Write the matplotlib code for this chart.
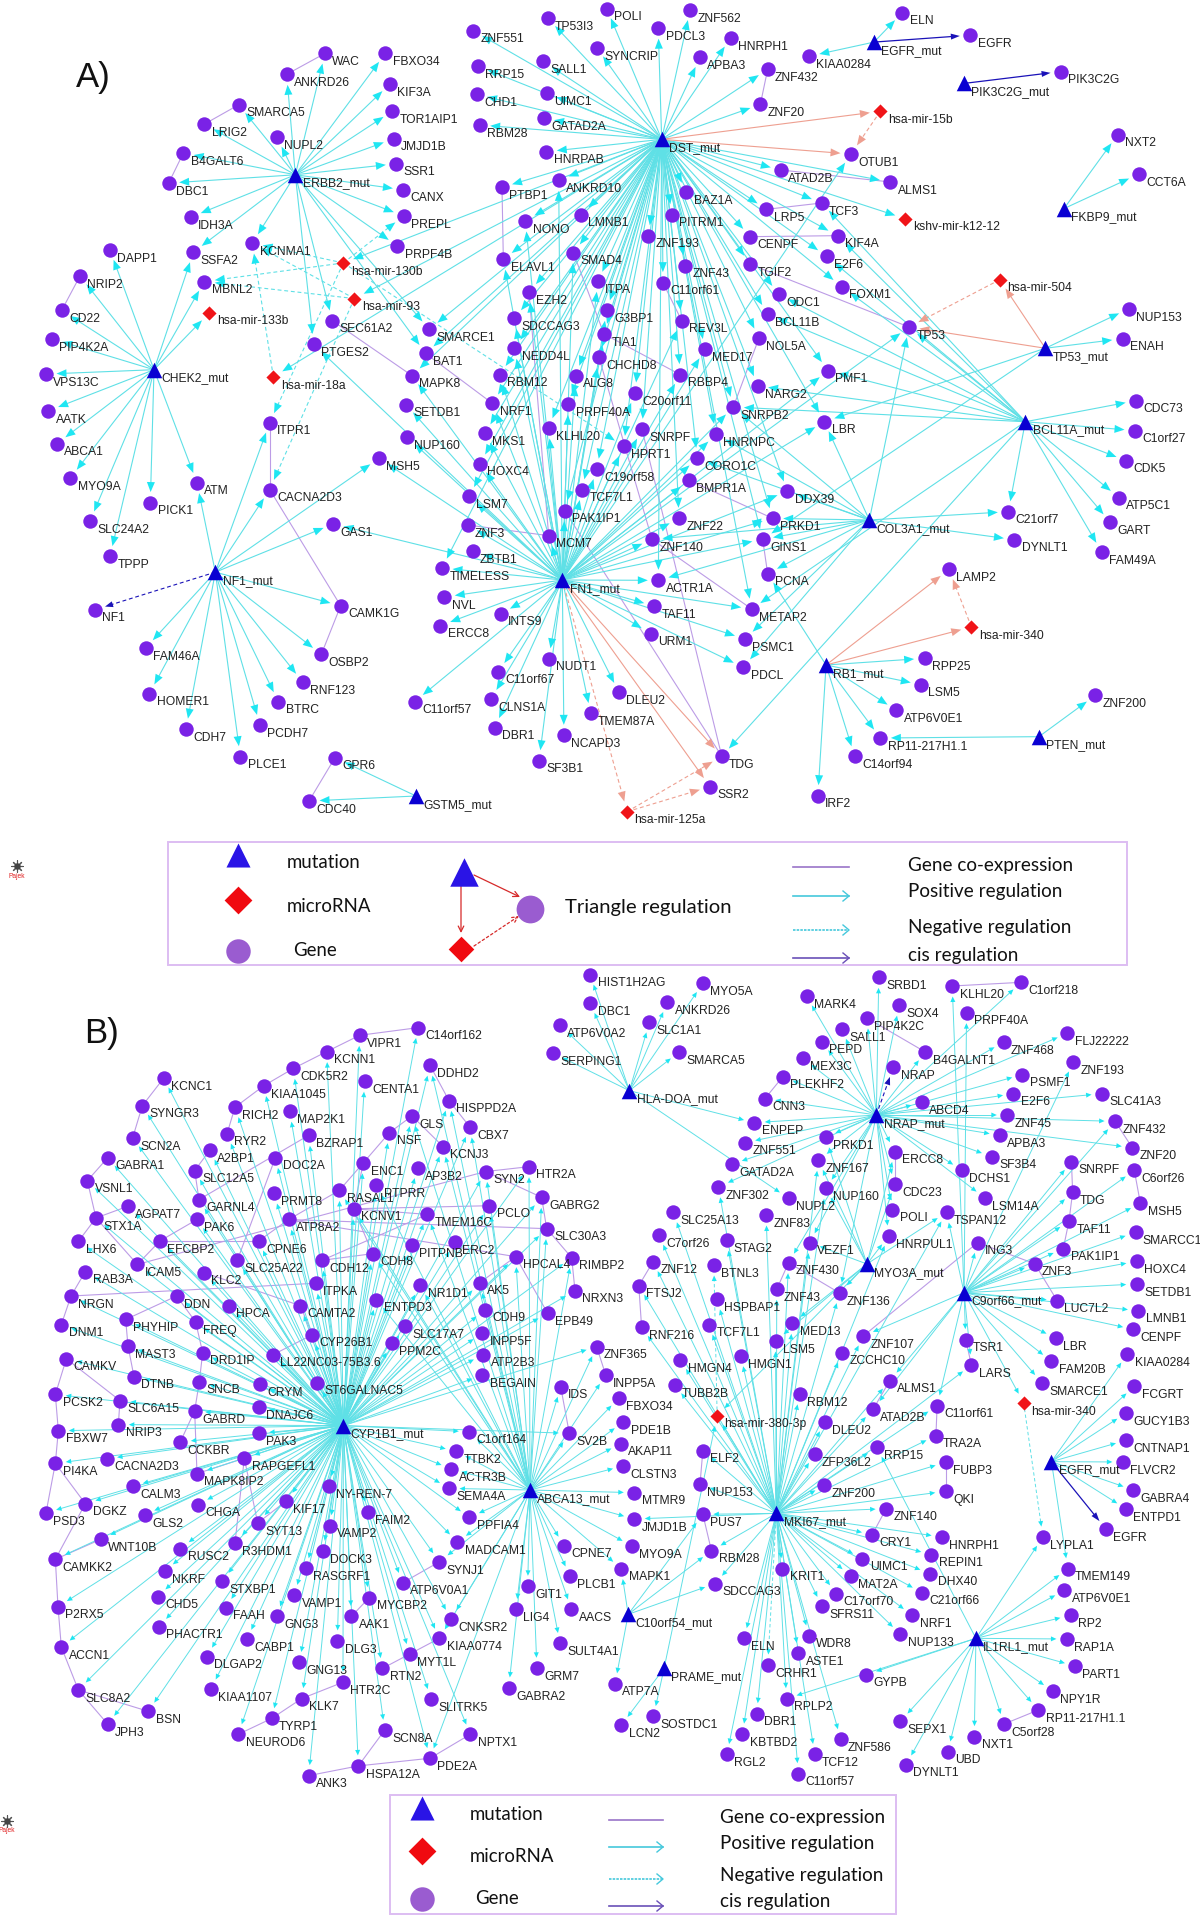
import numpy as np
import matplotlib
matplotlib.use("Agg")
import matplotlib.pyplot as plt
from matplotlib.collections import LineCollection, PolyCollection
from matplotlib.patches import Rectangle

# ---------- node locations (x, y read on a sub-view; see crop()) ----------
A_LEFT = [("WAC",975,135),("FBXO34",1156,135),("ANKRD26",860,188),("KIF3A",1170,212),("SMARCA5",716,265),
 ("TOR1AIP1",1177,281),("LRIG2",613,314),("NUPL2",831,347),("JMJD1B",1181,351),("B4GALT6",550,387),("SSR1",1189,414),
 ("DBC1",506,463),("CANX",1210,480),("IDH3A",573,549),("PREPL",1211,546),("PRPF4B",1192,622),("SSFA2",580,638),
 ("KCNMA1",757,615),("MBNL2",613,712),("DAPP1",330,632),("NRIP2",240,698),("CD22",185,785),("PIP4K2A",156,857),
 ("VPS13C",138,946),("AATK",145,1039),("ABCA1",171,1122),("MYO9A",211,1209),("SLC24A2",270,1318),("TPPP",330,1407),
 ("PICK1",451,1271),("ATM",591,1221),("ITPR1",809,1069),("CACNA2D3",809,1238),("MSH5",1137,1159),("GAS1",1000,1325),
 ("CAMK1G",1022,1532),("NF1",285,1542),("SEC61A2",997,811),("PTGES2",941,871),("SMARCE1",1288,833),("BAT1",1277,894),
 ("MAPK8",1236,950),("SETDB1",1218,1023),("NUP160",1221,1105)]
A_CENTER = [("RBM28",179,15),("GATAD2A",371,-5),("HNRPAB",379,95),("ANKRD10",416,181),("PTBP1",246,202),("NONO",316,303),
 ("LMNB1",482,284),("ELAVL1",250,418),("SMAD4",460,398),("BAZ1A",799,217),("PITRM1",755,284),("ZNF193",685,347),
 ("OTUB1",1293,102),("ATAD2B",1083,150),("ALMS1",1411,186),("TCF3",1205,249),("LRP5",1039,268),("KIF4A",1253,347),
 ("CENPF",991,350),("E2F6",1220,409),("TGIF2",991,433),("FOXM1",1265,500),("ODC1",1076,523),("BCL11B",1043,582),
 ("ZNF43",796,437),("C11orf61",729,488),("ITPA",534,484),("EZH2",327,516),("G3BP1",560,571),("SDCCAG3",283,595),
 ("REV3L",785,602),("NOL5A",1017,654),("TIA1",552,642),("NEDD4L",283,685),("MED17",855,688),("CHCHD8",537,712),
 ("ALG8",467,767),("RBM12",239,764),("RBBP4",781,764),("PMF1",1224,752),("NARG2",1013,798),("C20orf11",645,819),
 ("NRF1",217,850),("PRPF40A",445,853),("SNRPB2",940,861),("LBR",1213,905),("KLHL20",386,924),("SNRPF",666,928),
 ("MKS1",195,940),("HNRNPC",888,943),("HPRT1",611,979),("HOXC4",180,1031),("CORO1C",832,1015),("C19orf58",530,1047),
 ("BMPR1A",807,1081),("TCF7L1",486,1109),("DDX39",1102,1114),("LSM7",147,1129),("PAK1IP1",434,1172),("ZNF22",777,1195),
 ("PRKD1",1058,1195),("ZNF3",143,1215),("MCM7",386,1247),("ZNF140",696,1258),("GINS1",1028,1258),("ZBTB1",158,1293),
 ("TIMELESS",66,1344),("PCNA",1043,1361),("ACTR1A",715,1381),("NVL",73,1431),("TAF11",703,1458),("METAP2",995,1467),
 ("INTS9",242,1481),("TP53",1467,621)]
A_RIGHT = [("ELN",607,33),("HNRPH1",92,99),("EGFR",811,92),("KIAA0284",327,147),("ZNF432",203,181),("APBA3",0,150),
 ("PIK3C2G",1083,187),("ZNF20",181,273),("NXT2",1253,352),("CCT6A",1316,455),("NUP153",1286,807),("ENAH",1268,885),
 ("CDC73",1308,1047),("C1orf27",1305,1125),("CDK5",1279,1204),("ATP5C1",1257,1300),("GART",1231,1365),("FAM49A",1205,1442),
 ("C21orf7",925,1337),("DYNLT1",943,1410),("LAMP2",747,1488)]
A_TOP = [("ZNF551",386,25),("TP53I3",447,15),("POLI",495,7),("ZNF562",563,8),("SYNCRIP",487,39),("PDCL3",537,23),
 ("SALL1",443,50),("RRP15",390,54),("CHD1",389,77),("UIMC1",446,76)]
A_BOTTOM_L = [("FAM46A",197,144),("HOMER1",208,281),("CDH7",318,387),("PLCE1",481,470),("PCDH7",540,375),("BTRC",595,305),
 ("RNF123",668,246),("OSBP2",724,163),("GPR6",765,473),("CDC40",687,603),("C11orf57",1004,305),("C11orf67",1255,215),
 ("CLNS1A",1233,297),("DBR1",1244,383),("NUDT1",1406,176),("ERCC8",1081,77),("SF3B1",1377,482)]
A_BOTTOM_R = [("URM1",254,161),("PSMC1",518,177),("PDCL",513,262),("DLEU2",165,337),("TMEM87A",86,400),("NCAPD3",11,466),
 ("TDG",453,529),("SSR2",420,620),("IRF2",722,647),("C14orf94",825,529),("RP11-217H1.1",897,474),("ATP6V0E1",942,391),
 ("LSM5",1011,314),("RPP25",1021,235),("ZNF200",1499,346)]

A_HUBS_LEFT = [("ERBB2_mut",886,442),("CHEK2_mut",462,935),("NF1_mut",646,1447)]
A_HUBS_CENTER = [("DST_mut",725,58),("FN1_mut",427,1380),("COL3A1_mut",1348,1200)]
A_HUBS_RIGHT = [("EGFR_mut",522,110),("PIK3C2G_mut",792,218),("FKBP9_mut",1092,545),("TP53_mut",1036,910),("BCL11A_mut",976,1102)]
A_HUBS_BL = [("GSTM5_mut",1008,588)]
A_HUBS_BR = [("RB1_mut",745,255),("PTEN_mut",1341,470)]

A_MIR_LEFT = [("hsa-mir-130b",1030,665),("hsa-mir-93",1063,755),("hsa-mir-133b",628,791),("hsa-mir-18a",820,953)]
A_MIR_CENTER = [("kshv-mir-k12-12",1456,296)]
A_MIR_RIGHT = [("hsa-mir-15b",541,291),("hsa-mir-504",899,731)]
A_MIR_BR = [("hsa-mir-125a",188,695),("hsa-mir-340",1152,141)]

B_CYP_NODES = [("C14orf162",1254,15),("VIPR1",1079,30),("KCNN1",980,62),("DDHD2",1290,89),("CDK5R2",880,95),("CENTA1",1094,120),
 ("KCNC1",491,114),("KIAA1045",791,129),("HISPPD2A",1347,158),("SYNGR3",427,168),("RICH2",705,171),("MAP2K1",869,179),
 ("GLS",1236,188),("CBX7",1410,210),("NSF",1168,221),("RYR2",681,223),("BZRAP1",926,226),("SCN2A",398,231),("KCNJ3",1329,248),
 ("A2BP1",630,255),("DOC2A",826,270),("GABRA1",323,270),("ENC1",1090,280),("AP3B2",1253,290),("SLC12A5",584,295),("SYN2",1457,297),
 ("VSNL1",262,315),("PTPRR",1129,324),("RASAL1",1018,334),("PRMT8",822,340),("GARNL4",597,352),("AGPAT7",384,365),("PCLO",1468,364),
 ("KCNV1",1061,370),("TMEM16C",1282,381),("STX1A",288,388),("PAK6",591,391),("ATP8A2",866,391),("LHX6",235,434),("EFCBP2",480,433),
 ("CPNE6",776,433),("PITPNB",1236,441),("ERC2",1365,436),("CDH8",1118,458),("CDH12",966,471),("SLC25A22",712,471),("ICAM5",412,479),
 ("RAB3A",256,493),("KLC2",612,495),("ITPKA",947,516),("NR1D1",1261,520),("AK5",1439,515),("DDN",530,541),("NRGN",213,541),
 ("ENTPD3",1129,548),("HPCA",687,560),("CAMTA2",901,560),("CDH9",1454,568),("PHYHIP",377,587),("FREQ",587,592),("DNM1",184,597),
 ("SLC17A7",1214,600),("INPP5F",1447,614),("CYP26B1",937,617),("PPM2C",1176,634),("MAST3",384,639),("LL22NC03-75B3.6",819,656),
 ("DRD1IP",608,652),("ATP2B3",1450,656),("CAMKV",199,664),("DTNB",402,699),("SNCB",598,709),("BEGAIN",1447,696),("ST6GALNAC5",951,711),
 ("CRYM",780,714),("PCSK2",166,734),("SLC6A15",360,746),("DNAJC6",776,759),("GABRD",584,766),("NRIP3",355,793),("FBXW7",175,805),
 ("C1orf164",1408,807),("PAK3",776,810),("CCKBR",541,827),("TTBK2",1368,845),("RAPGEFL1",733,859),("CACNA2D3",320,860),("PI4KA",166,869),
 ("ACTR3B",1354,880),("MAPK8IP2",591,889),("NY-REN-7",987,914),("CALM3",398,914),("SEMA4A",1347,918),("CHGA",594,950),("DGKZ",256,948),
 ("KIF17",858,943),("GLS2",434,970),("PSD3",138,966),("FAIM2",1104,964),("PPFIA4",1408,975),("SYT13",773,986),("VAMP2",990,991),
 ("WNT10B",302,1018),("R3HDM1",705,1025),("MADCAM1",1372,1023),("RUSC2",541,1036),("DOCK3",969,1041),("CAMKK2",166,1057),("SYNJ1",1318,1062),
 ("RASGRF1",918,1075),("NKRF",494,1080),("STXBP1",666,1100),("ATP6V0A1",1208,1103),("VAMP1",883,1127),("MYCBP2",1108,1132),("CHD5",473,1130),
 ("FAAH",677,1152),("P2RX5",174,1150),("GNG3",830,1169),("AAK1",1054,1169),("CNKSR2",1353,1174),("PHACTR1",477,1189),("CABP1",741,1214),
 ("KIAA0774",1318,1212),("DLG3",1012,1217),("ACCN1",184,1229),("MYT1L",1229,1243),("DLGAP2",620,1248),("GNG13",898,1259),("RTN2",1147,1271),
 ("HTR2C",1029,1298),("SLC8A2",235,1313),("KIAA1107",633,1311),("KLK7",905,1330),("SLITRK5",1293,1331),("BSN",445,1355),("TYRP1",815,1369),
 ("JPH3",323,1380),("SCN8A",1154,1392),("NEUROD6",715,1400),("NPTX1",1411,1400),("PDE2A",1290,1447),("HSPA12A",1075,1462),("ANK3",926,1481)]
B_MID = [("HTR2A",1287,200),("GABRG2",1325,292),("SLC30A3",1340,386),("HPCAL4",1247,470),("RIMBP2",1415,473),("NRXN3",1425,572),
 ("EPB49",1343,640),("IDS",1382,860),("SV2B",1408,1000),("CPNE7",1392,1337),("PLCB1",1410,1428),("GIT1",1283,1459),("ZNF365",1490,740)]
B_MID_D = [("LIG4",421,1313),("GRM7",438,1361),("GABRA2",415,1377),("SERPING1",451,859)]
B_UPPER = [("HIST1H2AG",74,44),("MYO5A",350,70),("DBC1",74,130),("ANKRD26",263,127),("ATP6V0A2",0,196),("SLC1A1",219,187),("SMARCA5",292,276),
 ("SRBD1",781,52),("KLHL20",961,78),("C1orf218",1130,67),("MARK4",604,109),("SOX4",831,136),("PRPF40A",996,158),("PIP4K2C",752,174),
 ("SALL1",691,207),("FLJ22222",1243,220),("PEPD",642,245),("ZNF468",1087,246),("B4GALNT1",895,276),("ZNF193",1258,306),("MEX3C",595,295),
 ("NRAP",817,321),("PSMF1",1133,344),("PLEKHF2",546,350),("SLC41A3",1328,401),("E2F6",1111,401),("CNN3",502,416),("ABCD4",886,427),
 ("ZNF45",1096,465),("ENPEP",476,488),("ZNF432",1360,484),("PRKD1",651,532),("APBA3",1078,526),("ZNF551",453,548),("ZNF20",1402,563),
 ("ERCC8",820,575),("SF3B4",1058,590),("ZNF167",633,601),("SNRPF",1253,605),("GATAD2A",421,613),("DCHS1",985,631),("C6orf26",1407,631),
 ("NUP160",651,685),("CDC23",820,673),("ZNF302",388,681),("TDG",1256,696),("LSM14A",1041,714),("NUPL2",560,715),("MSH5",1422,730),
 ("SLC25A13",278,757),("POLI",814,749),("TSPAN12",947,757),("ZNF83",505,765),("TAF11",1247,783),("SMARCC1",1410,817),("C7orf26",243,825),
 ("HNRPUL1",805,828),("STAG2",408,841),("ING3",1023,848),("VEZF1",612,848),("PAK1IP1",1233,866),("HOXC4",1413,904),("ZNF430",560,908),
 ("ZNF3",1163,911),("ZNF12",228,905),("BTNL3",377,915),("LUC7L2",1218,1022),("SETDB1",1413,972),("FTSJ2",193,977),("ZNF43",531,988),
 ("ZNF136",685,999),("HSPBAP1",385,1018),("LMNB1",1417,1052),("RNF216",200,1102),("TCF7L1",365,1094),("MED13",569,1090),("CENPF",1405,1108),
 ("ZNF107",743,1128),("TSR1",994,1139),("LSM5",528,1143),("LBR",1215,1135),("KIAA0284",1390,1182),("ZCCHC10",691,1178),("HMGN1",443,1188),
 ("HMGN4",295,1200),("FAM20B",1204,1204),("LARS",1008,1215),("INPP5A",112,1245),("ALMS1",808,1262),("SMARCE1",1181,1269),("TUBB2B",281,1275),
 ("FCGRT",1407,1279),("RBM12",587,1302),("FBXO34",144,1314),("C11orf61",924,1337),("ATAD2B",767,1348),("GUCY1B3",1387,1359),("PDE1B",155,1386),
 ("DLEU2",649,1386),("TRA2A",921,1427),("CNTNAP1",1387,1441),("AKAP11",149,1451),("RRP15",776,1462),("ELF2",350,1472),("ZFP36L2",624,1482)]
B_LOWER = [("CLSTN3",155,138),("NUP153",343,192),("FUBP3",945,127),("MTMR9",182,218),("ZNF200",648,195),("FLVCR2",1379,126),("GABRA4",1405,210),
 ("QKI",945,214),("ENTPD1",1387,267),("ZNF140",799,266),("PUS7",350,283),("JMJD1B",182,297),("EGFR",1338,328),("CRY1",765,344),("LYPLA1",1183,351),
 ("HNRPH1",936,351),("MYO9A",176,378),("RBM28",371,392),("REPIN1",910,404),("UIMC1",741,416),("MAPK1",150,446),("KRIT1",545,446),("TMEM149",1244,446),
 ("DHX40",907,461),("MAT2A",712,468),("SDCCAG3",380,491),("ATP6V0E1",1236,511),("C21orf66",887,518),("C17orf70",677,521),("SFRS11",642,559),
 ("AACS",28,568),("NRF1",863,586),("RP2",1251,586),("WDR8",610,647),("NUP133",834,643),("RAP1A",1242,657),("ELN",451,655),("ASTE1",584,700),
 ("SULT4A1",0,670),("CRHR1",509,735),("GYPB",750,764),("PART1",1262,738),("ATP7A",135,791),("NPY1R",1207,813),("RPLP2",555,836),
 ("RP11-217H1.1",1172,870),("DBR1",482,881),("SOSTDC1",229,889),("SEPX1",834,904),("C5orf28",1088,912),("LCN2",150,916),("KBTBD2",447,942),
 ("NXT1",1015,950),("ZNF586",688,958),("UBD",950,995),("RGL2",409,1003),("TCF12",624,1003),("DYNLT1",848,1034),("C11orf57",584,1061)]

B_HUBS_CYP = [("CYP1B1_mut",1030,795)]
B_HUBS_MID = [("ABCA13_mut",1290,1170)]
B_HUBS_UPPER = [("HLA-DOA_mut",170,392),("NRAP_mut",775,465),("MYO3A_mut",752,912),("C9orf66_mut",990,998)]
B_HUBS_LOWER = [("MKI67_mut",530,280),("EGFR_mut",1204,125),("C10orf54_mut",167,583),("PRAME_mut",255,745),("IL1RL1_mut",1019,655)]
B_MIR = [("hsa-mir-380-3p",385,1367),("hsa-mir-340",1136,1329)]

# ---------- regulation edges ----------
A_POS = {
 "ERBB2_mut": "WAC FBXO34 ANKRD26 KIF3A SMARCA5 TOR1AIP1 LRIG2 NUPL2 JMJD1B B4GALT6 SSR1 DBC1 CANX IDH3A PREPL PRPF4B SSFA2 KCNMA1 SEC61A2 PTGES2 BAT1 SMARCE1".split(),
 "CHEK2_mut": "DAPP1 NRIP2 CD22 PIP4K2A VPS13C AATK ABCA1 MYO9A SLC24A2 TPPP PICK1 ATM SSFA2 MBNL2 hsa-mir-133b".split(),
 "NF1_mut": "ATM ITPR1 CACNA2D3 MSH5 GAS1 CAMK1G FAM46A HOMER1 CDH7 PLCE1 PCDH7 BTRC RNF123 OSBP2".split(),
 "GSTM5_mut": "GPR6 CDC40".split(),
 "DST_mut": ("ZNF551 TP53I3 POLI ZNF562 SYNCRIP PDCL3 SALL1 RRP15 HNRPH1 APBA3 CHD1 UIMC1 RBM28 GATAD2A ZNF432 ZNF20 HNRPAB ANKRD10 PTBP1 NONO LMNB1 ELAVL1 SMAD4 "
             "BAZ1A PITRM1 ZNF193 ATAD2B ALMS1 TCF3 LRP5 KIF4A CENPF E2F6 TGIF2 FOXM1 ODC1 BCL11B ZNF43 C11orf61 ITPA EZH2 G3BP1 REV3L NOL5A TIA1 MED17 SDCCAG3 NEDD4L "
             "RBM12 CHCHD8 ALG8 RBBP4 PMF1 NARG2 C20orf11 NRF1 PRPF40A SNRPB2 LBR KLHL20 SNRPF MKS1 HNRNPC HPRT1 HOXC4 CORO1C C19orf58 TCF7L1 DDX39 LSM7 ZNF22 PRKD1 GINS1 "
             "kshv-mir-k12-12 SMARCE1 BAT1 MAPK8 PAK1IP1 ACTR1A METAP2 TIMELESS hsa-mir-130b hsa-mir-93 hsa-mir-18a").split(),
 "FN1_mut": ("MCM7 PAK1IP1 TCF7L1 C19orf58 HPRT1 SNRPF KLHL20 PRPF40A ALG8 CHCHD8 TIA1 G3BP1 ITPA SMAD4 EZH2 SDCCAG3 NEDD4L RBM12 NRF1 MKS1 HOXC4 LSM7 ZNF3 ZBTB1 TIMELESS NVL ERCC8 "
             "INTS9 C11orf57 C11orf67 CLNS1A DBR1 NUDT1 SF3B1 NCAPD3 TMEM87A DLEU2 URM1 PDCL PSMC1 TAF11 METAP2 ACTR1A ZNF140 GINS1 PRKD1 DDX39 ZNF22 BMPR1A CORO1C HNRNPC SNRPB2 "
             "RBBP4 MED17 REV3L C20orf11 LBR PMF1 NONO ELAVL1 ANKRD10 MAPK8 SETDB1 NUP160 MSH5 GAS1 PTGES2 OTUB1 TP53").split(),
 "COL3A1_mut": "TP53 C21orf7 DYNLT1 GINS1 PRKD1 DDX39 SNRPB2 HNRNPC CORO1C PCNA ACTR1A PSMC1 PDCL ZNF140 LBR".split(),
 "BCL11A_mut": "CDC73 C1orf27 CDK5 ATP5C1 GART FAM49A C21orf7 TCF3 KIF4A E2F6 FOXM1 ODC1 BCL11B TP53 PMF1 NARG2 SNRPB2 METAP2 TDG".split(),
 "TP53_mut": "NUP153 ENAH LBR GINS1".split(),
 "RB1_mut": "RPP25 LSM5 ATP6V0E1 RP11-217H1.1 C14orf94 IRF2 PCNA".split(),
 "PTEN_mut": "ZNF200 RP11-217H1.1".split(),
 "EGFR_mut": "ELN KIAA0284".split(),
 "FKBP9_mut": "NXT2 CCT6A".split(),
}
A_NEG = [("hsa-mir-130b","KCNMA1"),("hsa-mir-130b","MBNL2"),("hsa-mir-130b","PREPL"),("hsa-mir-130b","ITPR1"),("hsa-mir-130b","HPRT1"),
 ("hsa-mir-93","KCNMA1"),("hsa-mir-93","MBNL2"),("hsa-mir-93","CACNA2D3"),("hsa-mir-18a","KCNMA1")]
A_TRI_SOLID = [("DST_mut","OTUB1"),("DST_mut","hsa-mir-15b"),("TP53_mut","TP53"),("TP53_mut","hsa-mir-504"),("RB1_mut","LAMP2"),("RB1_mut","hsa-mir-340"),
 ("FN1_mut","TDG"),("FN1_mut","SSR2")]
A_TRI_DASH = [("hsa-mir-15b","OTUB1"),("hsa-mir-504","TP53"),("hsa-mir-340","LAMP2"),("FN1_mut","hsa-mir-125a"),("hsa-mir-125a","TDG"),("hsa-mir-125a","SSR2")]
A_CIS = [("EGFR_mut","EGFR"),("PIK3C2G_mut","PIK3C2G")]
A_CIS_DASH = [("NF1_mut","NF1")]
A_COEXP = [("WAC","ANKRD26"),("SMARCA5","LRIG2"),("B4GALT6","DBC1"),("NRIP2","CD22"),("ITPR1","CACNA2D3"),("CACNA2D3","CAMK1G"),("CAMK1G","OSBP2"),("GPR6","CDC40"),
 ("PTBP1","ELAVL1"),("ATAD2B","ALMS1"),("LRP5","TCF3"),("CENPF","KIF4A"),("TGIF2","TP53"),("SMAD4","TIA1"),("C11orf61","REV3L"),("TIA1","RBBP4"),("ZNF3","MCM7"),
 ("SEC61A2","MAPK8"),("BAT1","NRF1"),("NOL5A","SNRPB2"),("EZH2","MCM7"),("BMPR1A","PRKD1"),("GINS1","PCNA"),("CHCHD8","ZNF140"),("SNRPF","TDG"),("ZNF140","METAP2"),
 ("PAK1IP1","TDG"),("ZNF432","ZNF20")]

B_ABCA13 = ("CPNE7 PLCB1 GIT1 LIG4 AACS GRM7 SULT4A1 GABRA2 MAPK1 MYO9A JMJD1B MTMR9 CLSTN3 AKAP11 PDE1B FBXO34 INPP5A ZNF365 SV2B IDS SEMA4A ACTR3B PPFIA4 MADCAM1 SYNJ1 CNKSR2 "
            "KIAA0774 PDE2A C1orf164 TTBK2 SYN2 KCNJ3 CBX7 HISPPD2A GABRG2 RIMBP2 TMEM16C RASAL1 CDH8 ENTPD3 KCNV1 PTPRR HTR2A SLC30A3 HPCAL4 GLS DDHD2 NR1D1 AK5 PCLO").split()
B_CYP_EXTRA = "HTR2A GABRG2 SLC30A3 HPCAL4 RIMBP2 NRXN3 EPB49 SV2B ZNF365".split()
B_POS = {
 "ABCA13_mut": B_ABCA13,
 "HLA-DOA_mut": "HIST1H2AG MYO5A DBC1 ANKRD26 ATP6V0A2 SLC1A1 SERPING1 SMARCA5 ENPEP NUPL2".split(),
 "NRAP_mut": ("SRBD1 MARK4 SOX4 PIP4K2C SALL1 PEPD MEX3C PLEKHF2 CNN3 ENPEP ZNF551 GATAD2A ZNF302 PRKD1 ZNF167 ZNF468 FLJ22222 B4GALNT1 PSMF1 E2F6 SLC41A3 ABCD4 ZNF45 ZNF432 "
              "APBA3 ZNF20 SF3B4 DCHS1 LSM14A ERCC8 CDC23 POLI C1orf218 NUP160 HNRPUL1 VEZF1 ZNF136 ZNF430").split(),
 "MYO3A_mut": "ZNF136 HNRPUL1 TSPAN12 CDC23 VEZF1 ZNF167 PRKD1 MED13 LSM5 ERCC8 NUP160 hsa-mir-380-3p".split(),
 "C9orf66_mut": ("SNRPF TDG TAF11 PAK1IP1 C6orf26 MSH5 SMARCC1 HOXC4 SETDB1 LMNB1 CENPF LBR FAM20B SMARCE1 ZNF3 LUC7L2 ING3 TSPAN12 KLHL20 PRPF40A TSR1 ALMS1 ATAD2B ZNF193 ZNF432 "
                 "LARS C11orf61 hsa-mir-340 ZNF107").split(),
 "MKI67_mut": ("ZNF12 FTSJ2 RNF216 SLC25A13 C7orf26 STAG2 HSPBAP1 TCF7L1 HMGN1 HMGN4 TUBB2B ZNF302 ZNF83 ZNF430 VEZF1 ZNF43 MED13 LSM5 ZNF136 ZNF107 ZCCHC10 RBM12 ALMS1 ATAD2B DLEU2 RRP15 "
               "ZFP36L2 C11orf61 TRA2A FUBP3 QKI ZNF200 ZNF140 CRY1 HNRPH1 REPIN1 UIMC1 DHX40 MAT2A C21orf66 NRF1 NUP133 C17orf70 SFRS11 WDR8 ASTE1 KRIT1 ELN RPLP2 DBR1 KBTBD2 RGL2 TCF12 "
               "ZNF586 C11orf57 SDCCAG3 RBM28 PUS7 NUP153 ELF2 hsa-mir-380-3p LARS NUP160 ZNF167 TSPAN12 HNRPUL1 JMJD1B").split(),
 "C10orf54_mut": "ATP7A MAPK1 RBM28 SDCCAG3 PUS7".split(),
 "PRAME_mut": "LCN2 SOSTDC1 hsa-mir-380-3p".split(),
 "EGFR_mut": "FCGRT GUCY1B3 CNTNAP1 FLVCR2 GABRA4 ENTPD1 TMEM149 KIAA0284".split(),
 "IL1RL1_mut": "LYPLA1 TMEM149 ATP6V0E1 RP2 RAP1A PART1 NPY1R RP11-217H1.1 C5orf28 NXT1 UBD SEPX1 DYNLT1 GYPB RPLP2 RRP15".split(),
}
B_NEG = [("hsa-mir-340","LYPLA1"),("MKI67_mut","CRHR1"),("hsa-mir-380-3p","BTNL3")]
B_CIS = [("EGFR_mut","EGFR")]
B_CIS_DASH = [("NRAP_mut","NRAP")]
B_COEXP = [("C14orf162","VIPR1"),("VIPR1","KCNN1"),("KCNN1","CDK5R2"),("CDK5R2","KIAA1045"),("KIAA1045","RICH2"),("RICH2","RYR2"),("KCNC1","SYNGR3"),("SYNGR3","SCN2A"),
 ("GABRA1","VSNL1"),("VSNL1","STX1A"),("STX1A","LHX6"),("STX1A","AGPAT7"),("STX1A","ICAM5"),("ICAM5","EFCBP2"),("EFCBP2","PAK6"),("EFCBP2","CPNE6"),("A2BP1","SLC12A5"),
 ("SLC12A5","GARNL4"),("GARNL4","BZRAP1"),("DOC2A","SLC25A22"),("ENC1","NSF"),("NSF","GLS"),("GLS","KCNJ3"),("ENC1","RASAL1"),("RASAL1","ATP8A2"),("ATP8A2","CPNE6"),
 ("ATP8A2","SLC30A3"),("ATP8A2","HPCAL4"),("KCNV1","PCLO"),("KCNV1","TMEM16C"),("ENC1","KCNV1"),("KCNV1","CDH8"),("TMEM16C","CDH12"),("SYN2","ICAM5"),("SYN2","HTR2A"),("SYN2","GABRG2"),
 ("GABRG2","SLC30A3"),("SLC30A3","RIMBP2"),("RIMBP2","NRXN3"),("HPCAL4","EPB49"),("AK5","HPCAL4"),("CDH12","CDH8"),("NRGN","ITPKA"),("KLC2","CAMTA2"),("CYP26B1","LL22NC03-75B3.6"),
 ("CYP26B1","CAMTA2"),("DDN","PHYHIP"),("DDN","FREQ"),("FREQ","DRD1IP"),("DRD1IP","SNCB"),("SNCB","GABRD"),("GABRD","CCKBR"),("GABRD","MAPK8IP2"),("PHYHIP","MAST3"),("MAST3","DTNB"),
 ("RAPGEFL1","MAPK8IP2"),("RAPGEFL1","SYT13"),("RAPGEFL1","R3HDM1"),("KIF17","SYT13"),("RAB3A","NRGN"),("NRGN","DNM1"),("CAMKV","PCSK2"),("PCSK2","FBXW7"),("FBXW7","PI4KA"),
 ("PI4KA","PSD3"),("CAMKV","SLC6A15"),("SLC6A15","NRIP3"),("PI4KA","DGKZ"),("DGKZ","CAMKK2"),("CAMKK2","P2RX5"),("P2RX5","ACCN1"),("ACCN1","SLC8A2"),("SLC8A2","JPH3"),("SLC8A2","BSN"),
 ("WNT10B","CAMKK2"),("MYCBP2","AAK1"),("SYNJ1","ATP6V0A1"),("KIAA0774","RTN2"),("HTR2C","KLK7"),("KLK7","TYRP1"),("TYRP1","NEUROD6"),("HSPA12A","ANK3"),("HSPA12A","PDE2A"),
 ("HSPA12A","SCN8A"),("PDE2A","NPTX1"),("DDHD2","HISPPD2A"),("HISPPD2A","CBX7"),("IDS","SV2B"),("ZNF365","INPP5A"),("ELF2","NUP153"),("PUS7","RBM28"),("PIP4K2C","B4GALNT1"),
 ("KLHL20","C1orf218"),("PLEKHF2","CNN3"),("ZNF432","ZNF20"),("ERCC8","CDC23"),("SNRPF","TDG"),("TDG","TAF11"),("TAF11","PAK1IP1"),("C6orf26","MSH5"),("ING3","ZNF3"),("ZNF3","LUC7L2"),
 ("ING3","ZNF107"),("ZNF430","ZNF43"),("ZNF430","ZNF136"),("ZNF12","FTSJ2"),("FTSJ2","RNF216"),("ALMS1","ATAD2B"),("TSR1","LARS"),("C11orf61","TRA2A"),("FUBP3","QKI"),("ZNF140","CRY1"),
 ("C5orf28","RP11-217H1.1")]

# ---------- legends ----------
LEG_EDGES = ["Gene co-expression", "Positive regulation", "Negative regulation", "cis regulation"]
LEG_NODES = ["mutation", "microRNA", "Gene"]
PANELS = ["A)", "B)"]

# ---------- styles ----------
C_LINE, C_HEAD = "#5FE0E6", "#1FE6F2"
C_NODE, C_HUB, C_MIR = "#7A22E6", "#0A00D2", "#F01418"
C_CO, C_SALMON, C_CIS = "#BC9CE6", "#EE9F90", "#1A12B8"
C_TEXT = "#222222"
LBL_FONT = ["Liberation Sans", "DejaVu Sans"]
LEG_FONT = ["Lato", "DejaVu Sans"]

def crop(x0, y0, sx, sy, items):
    return {n: (x0 + x / sx, y0 + y / sy) for n, x, y in items}

A_GENES = {}
for args in [(0,0,3,2.529,A_LEFT),(420,120,3,3,A_CENTER),(700,0,3,2.613,A_RIGHT),(0,0,.8158,.8158,A_TOP),
             (80,600,3,3,A_BOTTOM_L),(560,580,2.8,3,A_BOTTOM_R)]:
    A_GENES.update(crop(*args))
A_HUBS = {}
for args in [(0,0,3,2.529,A_HUBS_LEFT),(420,120,3,3,A_HUBS_CENTER),(700,0,3,2.613,A_HUBS_RIGHT),(80,600,3,3,A_HUBS_BL),(560,580,2.8,3,A_HUBS_BR)]:
    A_HUBS.update(crop(*args))
A_MIRS = {}
for args in [(0,0,3,2.529,A_MIR_LEFT),(420,120,3,3,A_MIR_CENTER),(700,0,3,2.613,A_MIR_RIGHT),(560,580,2.8,3,A_MIR_BR)]:
    A_MIRS.update(crop(*args))

B_GENES = {}
for args in [(0,1020,3,1.96,B_CYP_NODES),(100,1100,3,3,B_MID),(0,0,.8158,.8158,B_MID_D),(560,960,2.45,3,B_UPPER),(560,1420,2.45,3,B_LOWER)]:
    B_GENES.update(crop(*args))
B_HUBS = {}
for args in [(0,1020,3,1.96,B_HUBS_CYP),(100,1100,3,3,B_HUBS_MID),(560,960,2.45,3,B_HUBS_UPPER),(560,1420,2.45,3,B_HUBS_LOWER)]:
    B_HUBS.update(crop(*args))
B_MIRS = crop(560,960,2.45,3,B_MIR)
B_POS = dict(B_POS)
B_POS["CYP1B1_mut"] = [n for n, _, _ in B_CYP_NODES] + B_CYP_EXTRA

fig = plt.figure(figsize=(12, 19.22), dpi=100, facecolor="white")
ax = fig.add_axes([0, 0, 1, 1])
ax.set_xlim(0, 1200); ax.set_ylim(1922, 0); ax.axis("off")

def edges(pos, pairs, color, head=None, lw=0.85, ls="solid", L=10, W=8, gap=10.5, z=2, hc=None):
    segs, polys = [], []
    for a, b in pairs:
        if a not in pos or b not in pos:
            print("missing", a, b); continue
        p, q = np.array(pos[a]), np.array(pos[b])
        d = q - p; n = np.hypot(*d)
        if n < 1: continue
        u = d / n; v = np.array([-u[1], u[0]])
        if head:
            tip = q - u * gap
            base = tip - u * L
            polys.append([tip, base + v * W / 2, base - v * W / 2])
            segs.append([p, base + u * L * .3])
        else:
            segs.append([p, q])
    ax.add_collection(LineCollection(segs, colors=color, linewidths=lw, linestyles=ls, zorder=z, capstyle="butt"))
    if polys:
        ax.add_collection(PolyCollection(polys, facecolors=hc or color, edgecolors="none", zorder=z + 0.5))

def draw_net(genes, hubs, mirs, pos_map, neg, coexp, cis, cis_d, tri=None, tri_d=None, L=10, W=8, lw=0.8):
    pos = {**genes, **hubs, **mirs}
    edges(pos, coexp, C_CO, lw=0.8, z=1.8)
    pairs = [(h, t) for h, ts in pos_map.items() for t in ts]
    edges(pos, pairs, C_LINE, head=True, L=L, W=W, hc=C_HEAD, lw=lw)
    edges(pos, neg, C_LINE, head=True, ls=(0, (3.5, 2.5)), L=L, W=W, hc=C_HEAD, lw=lw)
    edges(pos, tri or [], C_SALMON, head=True, L=10, W=8, lw=0.8)
    edges(pos, tri_d or [], C_SALMON, head=True, ls=(0, (3.5, 2.5)), L=10, W=8, lw=0.8)
    edges(pos, cis, C_CIS, head=True, lw=0.9, L=9, W=6)
    edges(pos, cis_d, C_CIS, head=True, lw=0.8, ls=(0, (3.5, 2.5)), L=8, W=6)
    g = np.array(list(genes.values())); h = np.array(list(hubs.values())); m = np.array(list(mirs.values()))
    ax.scatter(g[:, 0], g[:, 1], s=108, c=C_NODE, linewidths=0, zorder=4)
    ax.scatter(h[:, 0], h[:, 1], s=125, c=C_HUB, marker="^", linewidths=0, zorder=4)
    ax.scatter(m[:, 0], m[:, 1], s=52, c=C_MIR, marker="D", linewidths=0, zorder=4)
    for n, (x, y) in pos.items():
        ax.text(x + 7.3, y + 8.7, n, fontsize=8.7, family=LBL_FONT, color=C_TEXT, ha="left", va="center", zorder=5)

draw_net(A_GENES, A_HUBS, A_MIRS, A_POS, A_NEG, A_COEXP, A_CIS, A_CIS_DASH, A_TRI_SOLID, A_TRI_DASH, L=10, W=8, lw=0.8)
draw_net(B_GENES, B_HUBS, B_MIRS, B_POS, B_NEG, B_COEXP, B_CIS, B_CIS_DASH, L=5.5, W=5, lw=0.7)

ax.text(76, 77, PANELS[0], fontsize=25, family=LBL_FONT, color="#111111", va="center")
ax.text(84, 1034, PANELS[1], fontsize=25, family=LBL_FONT, color="#111111", va="center")

def legend(box, sym_x, sym_y, txt_x, txt_y, line_x, line_y, edge_x, edge_y):
    x0, y0, x1, y1 = box
    ax.add_patch(Rectangle((x0, y0), x1 - x0, y1 - y0, fill=False, ec="#DDBDF2", lw=1.4, zorder=1))
    ax.scatter([sym_x], [sym_y[0]], s=300, c="#2A14E6", marker="^", linewidths=0, zorder=4)
    ax.scatter([sym_x], [sym_y[1]], s=200, c="#F00A10", marker="D", linewidths=0, zorder=4)
    ax.scatter([sym_x], [sym_y[2]], s=310, c="#9A5CD0", linewidths=0, zorder=4)
    for t, xx, yy in zip(LEG_NODES, txt_x, txt_y):
        ax.text(xx, yy, t, fontsize=13.4, family=LEG_FONT, color="#111111", va="center")
    cols = ["#9A74C8", "#45C8DC", "#45C8DC", "#6A50B8"]
    lss = ["-", "-", (0, (1.5, 0.7)), "-"]
    for i, (yy, c, s) in enumerate(zip(line_y, cols, lss)):
        ax.plot(line_x, [yy, yy], color=c, lw=1.2, ls=s, zorder=3)
        if i:
            ax.plot([line_x[1] - 6, line_x[1], line_x[1] - 6], [yy - 5, yy, yy + 5], color=c, lw=1, zorder=3)
    for t, yy in zip(LEG_EDGES, edge_y):
        ax.text(edge_x, yy, t, fontsize=13.6, family=LEG_FONT, color="#111111", va="center")

legend((168, 842, 1127, 965), 238, (855, 900, 951), (287, 287, 293), (862, 906, 951),
       (793, 849), (867, 896, 930, 958), 908, (865, 892, 927, 955))
legend((390, 1795, 896, 1914), 421.6, (1808, 1851, 1899), (470, 470, 475.5), (1814, 1857, 1899),
       (609, 663), (1820, 1847, 1879, 1906), 720, (1817, 1843, 1876, 1902))

# triangle-regulation inset of legend A
ax.scatter([464], [872], s=420, c="#2A14E6", marker="^", linewidths=0, zorder=4)
ax.scatter([461], [949], s=170, c="#F00A10", marker="D", linewidths=0, zorder=4)
ax.scatter([530], [909], s=400, c="#9A5CD0", linewidths=0, zorder=4)
for (xa, ya, xb, yb, ls) in [(474, 875, 520, 897, "-"), (461, 885, 461, 933, "-"), (474, 946, 519, 916, (0, (2, 2)))]:
    ax.annotate("", xy=(xb, yb), xytext=(xa, ya), zorder=3,
                arrowprops=dict(arrowstyle="->", color="#D62A2A", lw=0.9, linestyle=ls, shrinkA=0, shrinkB=0))
ax.text(565, 907, "Triangle regulation", fontsize=14.6, family=LEG_FONT, color="#111111", va="center")

# Pajek watermarks
for x, y in [(17, 866), (7, 1821)]:
    ax.scatter([x], [y], s=70, c="#555555", marker=(8, 2, 0), linewidths=0.8, zorder=4)
    ax.scatter([x], [y], s=22, c="#444444", linewidths=0, zorder=4)
    ax.text(x, y + 10, "Pajek", fontsize=4.8, family=LBL_FONT, color="#E02020", ha="center", va="center")

fig.savefig("out.png", dpi=100, facecolor="white")
